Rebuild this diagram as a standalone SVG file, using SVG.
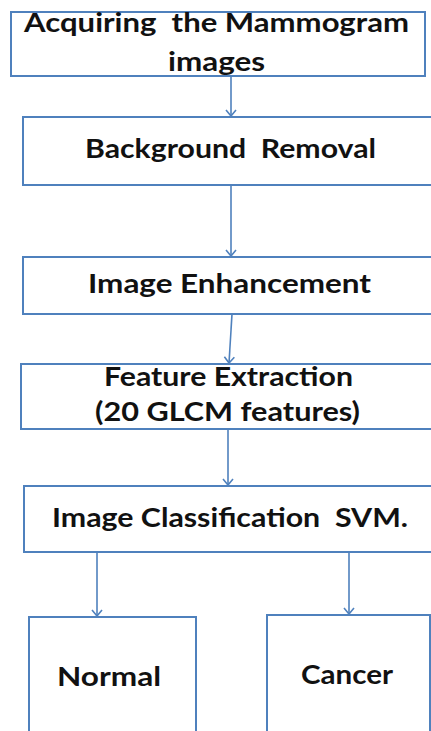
<svg xmlns="http://www.w3.org/2000/svg" width="431" height="731" viewBox="0 0 431 731">
  <style>
    .box { fill: #ffffff; stroke: #4F81BD; stroke-width: 2; }
    .lbl { font-family: Lato, "Open Sans", "Liberation Sans", sans-serif; font-weight: bold; font-size: 27px; fill: #111111; white-space: pre; }
    .conn { stroke: #4F81BD; stroke-width: 1.6; fill: none; marker-end: url(#arr); }
  </style>
  <defs>
    <marker id="arr" viewBox="-8 -7 10 14" markerWidth="10" markerHeight="14" refX="0" refY="0" orient="auto" markerUnits="userSpaceOnUse" overflow="visible">
      <path d="M-6,-5 L0,0 L-6,5" fill="none" stroke="#4F81BD" stroke-width="1.6"/>
    </marker>
  </defs>
  <rect width="431" height="731" fill="#ffffff"/>

  <g id="connectors">
    <line class="conn" x1="231" y1="76" x2="231" y2="116"/>
    <line class="conn" x1="231" y1="185" x2="231" y2="256"/>
    <line class="conn" x1="232" y1="314" x2="229" y2="363"/>
    <line class="conn" x1="228" y1="429" x2="228" y2="485"/>
    <line class="conn" x1="97" y1="552" x2="97" y2="616"/>
    <line class="conn" x1="349" y1="552" x2="349" y2="614"/>
  </g>

  <g id="acquire">
    <rect class="box" x="11" y="12" width="414" height="64"/>
    <text class="lbl" x="24" y="32" textLength="385" lengthAdjust="spacingAndGlyphs">Acquiring  the Mammogram</text>
    <text class="lbl" x="168" y="71" textLength="97" lengthAdjust="spacingAndGlyphs">images</text>
  </g>

  <g id="background">
    <rect class="box" x="23" y="117" width="420" height="68"/>
    <text class="lbl" x="85" y="158" textLength="291" lengthAdjust="spacingAndGlyphs">Background  Removal</text>
  </g>

  <g id="enhance">
    <rect class="box" x="23" y="257" width="420" height="57"/>
    <text class="lbl" x="88" y="293" textLength="283" lengthAdjust="spacingAndGlyphs">Image Enhancement</text>
  </g>

  <g id="feature">
    <rect class="box" x="21" y="364" width="420" height="65"/>
    <text class="lbl" x="104" y="386" textLength="249" lengthAdjust="spacingAndGlyphs">Feature Extraction</text>
    <text class="lbl" x="95" y="421" textLength="265" lengthAdjust="spacingAndGlyphs">(20 GLCM features)</text>
  </g>

  <g id="classify">
    <rect class="box" x="24" y="486" width="420" height="66"/>
    <text class="lbl" x="52" y="527" textLength="356" lengthAdjust="spacingAndGlyphs">Image Classification  SVM.</text>
  </g>

  <g id="normal">
    <rect class="box" x="29" y="617" width="167" height="130"/>
    <text class="lbl" x="57" y="686" textLength="104" lengthAdjust="spacingAndGlyphs">Normal</text>
  </g>

  <g id="cancer">
    <rect class="box" x="267" y="615" width="163" height="130"/>
    <text class="lbl" x="301" y="684" textLength="92" lengthAdjust="spacingAndGlyphs">Cancer</text>
  </g>
</svg>
